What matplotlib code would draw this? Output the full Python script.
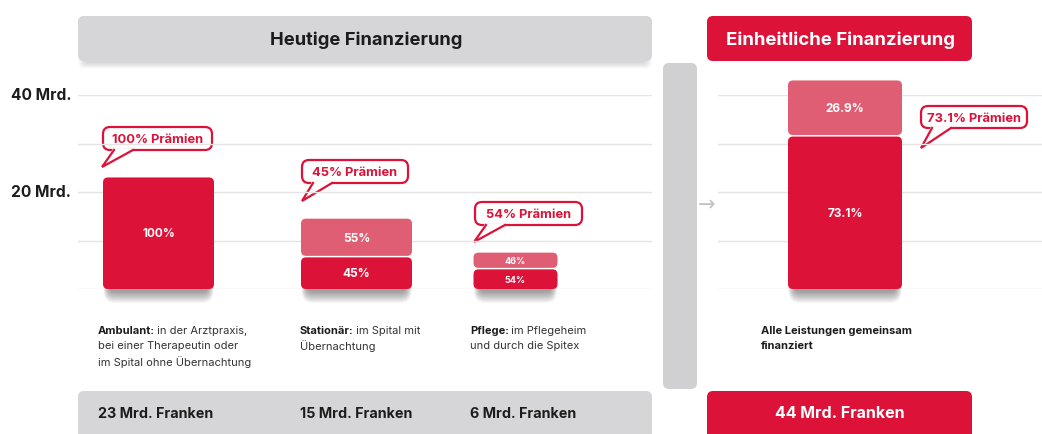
import matplotlib
matplotlib.use("Agg")
import matplotlib.pyplot as plt
from matplotlib.patches import FancyBboxPatch, Polygon
from matplotlib.lines import Line2D

# ---------------- data ----------------
categories = ["Ambulant", "Stationär", "Pflege"]
bar_height_mrd = [23, 14.5, 7.5]          # visual bar heights
praemien_pct = [100, 45, 54]
total_labels = ["23 Mrd. Franken", "15 Mrd. Franken", "6 Mrd. Franken"]
desc_bold = ["Ambulant:", "Stationär:", "Pflege:"]
desc_rest = [[" in der Arztpraxis,", "bei einer Therapeutin oder", "im Spital ohne Übernachtung"],
             [" im Spital mit", "Übernachtung"],
             [" im Pflegeheim", "und durch die Spitex"]]
unified_height_mrd = [43]
unified_pct = [73.1]
unified_total_label = "44 Mrd. Franken"
unified_desc = ["Alle Leistungen gemeinsam", "finanziert"]
ytick_vals = [20, 40]
ytick_labels = ["20 Mrd.", "40 Mrd."]
grid_vals = [0, 10, 20, 30, 40]

# ---------------- style ----------------
FONT = "Inter"
DARK = "#dc1239"
LIGHT = "#e05e73"
GRAY = "#d6d6d8"
GRID = "#e4e4e4"
TXT = "#1c1c1c"

W, H = 1042, 435
fig = plt.figure(figsize=(W / 100, H / 100), dpi=100)
fig.patch.set_facecolor("white")

ov = fig.add_axes([0, 0, 1, 1], zorder=0)
ov.set_xlim(0, W)
ov.set_ylim(H, 0)
ov.axis("off")

PX_PER_MRD = 194 / 40.0
BASE_PX = 290
ASP = 1.0 / PX_PER_MRD


def data_axes(x0, x1, z=1):
    ax = fig.add_axes([x0 / W, (H - BASE_PX) / H, (x1 - x0) / W, 194 / H], zorder=z)
    ax.set_xlim(x0, x1)
    ax.set_ylim(0, 40)
    ax.axis("off")
    ax.patch.set_alpha(0)
    for g in grid_vals:
        ax.axhline(g, color=GRID, lw=1.0, zorder=0)
    return ax


def rbox(ax, x, y, w, h, r, fc, ec="none", lw=0, z=2, aspect=1.0, alpha=1.0):
    p = FancyBboxPatch((x, y), w, h, boxstyle=f"round,pad=0,rounding_size={r}",
                       mutation_aspect=aspect, fc=fc, ec=ec, lw=lw, zorder=z,
                       clip_on=False, alpha=alpha)
    ax.add_patch(p)
    return p


# ---- background boxes ----
for k in range(8):
    e = k * 0.8
    rbox(ov, 84 - e, 40, 562 + 2 * e, 24 + e, 6, "#000000", z=0.9, alpha=0.02)
rbox(ov, 78, 17, 574, 45, 6, GRAY, z=1)
rbox(ov, 707, 17, 265, 45, 6, DARK, z=1)
rbox(ov, 663, 64, 34, 326, 6, "#d0d0d2", z=1)
rbox(ov, 78, 392, 574, 60, 6, GRAY, z=1)
rbox(ov, 707, 392, 265, 60, 6, DARK, z=1)
ov.text(366, 40, "Heutige Finanzierung", ha="center", va="center", fontsize=13.2,
        fontweight="bold", color=TXT, family=FONT)
ov.text(840, 40, "Einheitliche Finanzierung", ha="center", va="center", fontsize=13.4,
        fontweight="bold", color="white", family=FONT)
ov.text(707, 205, "→", ha="center", va="center", fontsize=15, color="#c2c2c2",
        family="DejaVu Sans")

for v, lab in zip(ytick_vals, ytick_labels):
    ov.text(11, BASE_PX - v * PX_PER_MRD, lab, ha="left", va="center", fontsize=11.2,
            fontweight="bold", color=TXT, family=FONT)

axL = data_axes(78, 652)
axR = data_axes(718, 1042)


def bar_shadow(ax, x, ybot, w):
    # soft shadow mostly below the bar: stacked boxes growing downward
    top = ybot + 12 * ASP
    for k in range(12):
        e = k * 1.0
        bottom = ybot - (3 + e) * ASP
        rbox(ax, x + 6 - e * 0.5, bottom, w - 12 + e, top - bottom, 6 + e * 0.5, "#000000",
             z=1.5, aspect=ASP, alpha=0.035)


def round_bars(ax, container, color, shrink_bottom_px=0, shadow=True):
    for rect in container:
        x, y = rect.get_x(), rect.get_y()
        w, h = rect.get_width(), rect.get_height()
        rect.set_visible(False)
        y0 = y + shrink_bottom_px * ASP
        hh = h - shrink_bottom_px * ASP
        if shadow:
            bar_shadow(ax, x, y0, w)
        rbox(ax, x, y0, w, hh, 5, color, z=3, aspect=ASP)


def draw_group(ax, xs, widths, heights, pcts, small_flags):
    bottoms_dark = [h * p / 100 for h, p in zip(heights, pcts)]
    tops_light = [h - d for h, d in zip(heights, bottoms_dark)]
    dark = ax.bar(xs, bottoms_dark, width=widths, color=DARK)
    light = ax.bar(xs, tops_light, width=widths, bottom=bottoms_dark, color=LIGHT)
    has_light = [t > 0.01 for t in tops_light]
    round_bars(ax, dark, DARK)
    for rect in light:
        rect.set_visible(False)
    light_list = [r for r, hl in zip(light, has_light) if hl]
    round_bars(ax, light_list, LIGHT, shrink_bottom_px=1.5, shadow=False)
    for x, d, t, p, small in zip(xs, bottoms_dark, tops_light, pcts, small_flags):
        fs = 6.5 if small else 8.5
        ax.text(x, d / 2, f"{p:g}%", ha="center", va="center", color="white",
                fontsize=fs, fontweight="bold", family=FONT, zorder=5)
        if t > 0.01:
            ax.text(x, d + t / 2, f"{100 - p:.1f}%".replace(".0%", "%"), ha="center",
                    va="center", color="white", fontsize=fs, fontweight="bold",
                    family=FONT, zorder=5)


draw_group(axL, [158.5, 356.5, 515.5], [111, 111, 84], bar_height_mrd, praemien_pct,
           [False, False, True])
draw_group(axR, [845], [114], unified_height_mrd, unified_pct, [False])


def bubble(x0, y0, x1, y1, tip, text):
    rbox(ov, x0, y0, x1 - x0, y1 - y0, 7, "white", ec=DARK, lw=1.6, z=4)
    a = (x0 + 11, y1)
    b = (x0 + 30, y1)
    ov.add_patch(Polygon([(a[0] - 1, y1 - 1.5), tip, (b[0] + 1, y1 - 1.5)], closed=True,
                         fc="white", ec="none", zorder=5))
    ov.add_line(Line2D([a[0], tip[0], b[0]], [a[1], tip[1], b[1]], color=DARK, lw=1.6,
                       zorder=6, solid_joinstyle="miter"))
    ov.text((x0 + x1) / 2, (y0 + y1) / 2 + 0.5, text, ha="center", va="center", color=DARK,
            fontsize=9.3, fontweight="bold", family=FONT, zorder=7)


bubble_boxes = [(103, 128, 212, 151, (102, 168)),
                (302, 161, 408, 184, (302, 202)),
                (475, 203, 582, 226, (474, 243))]
for (x0, y0, x1, y1, tip), p in zip(bubble_boxes, praemien_pct):
    bubble(x0, y0, x1, y1, tip, f"{p}% Prämien")
bubble(921, 107, 1027, 129, (921, 149), f"{unified_pct[0]}% Prämien")

fig.canvas.draw()
renderer = fig.canvas.get_renderer()
desc_x = [98, 300, 470]
LINE = 15.5
DFS = 8.0
for x, b, rest in zip(desc_x, desc_bold, desc_rest):
    t = ov.text(x, 331, b, ha="left", va="center", fontsize=DFS, fontweight="bold",
                color=TXT, family=FONT)
    bb = t.get_window_extent(renderer)
    ov.text(x + bb.width - 1, 331, rest[0], ha="left", va="center", fontsize=DFS,
            color="#333333", family=FONT)
    for k, line in enumerate(rest[1:], start=1):
        ov.text(x, 331 + k * LINE, line, ha="left", va="center", fontsize=DFS,
                color="#333333", family=FONT)
for k, line in enumerate(unified_desc):
    ov.text(761, 331 + k * LINE, line, ha="left", va="center", fontsize=DFS,
            fontweight="bold", color=TXT, family=FONT)

for x, lab in zip([98, 300, 470], total_labels):
    ov.text(x, 414, lab, ha="left", va="center", fontsize=10.3, fontweight="bold",
            color=TXT, family=FONT)
ov.text(840, 414, unified_total_label, ha="center", va="center", fontsize=11.5,
        fontweight="bold", color="white", family=FONT)

fig.savefig("out.png", dpi=100, facecolor="white")
